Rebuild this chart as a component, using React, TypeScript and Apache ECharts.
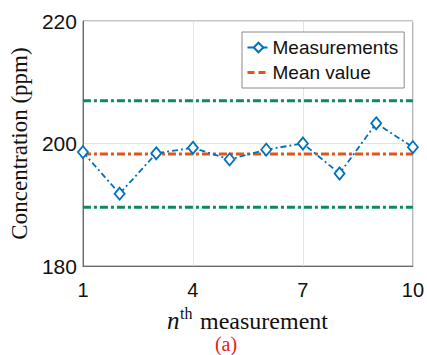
import React, { useEffect, useRef } from "react";
import * as echarts from "echarts";

const categories = ["1", "2", "3", "4", "5", "6", "7", "8", "9", "10"];
const measurements = [198.6, 191.8, 198.4, 199.3, 197.4, 199.0, 200.0, 195.1, 203.3, 199.4];
const meanValue = 198.3;
const upperLimit = 207.0;
const lowerLimit = 189.6;
const yTicks = { min: 180, max: 220, interval: 20 };

const BLUE = "#0072BD";
const ORANGE = "#E0561A";
const GREEN = "#0C8A5E";
const SERIF = "Liberation Serif";
const SANS = "Liberation Sans";

export default function App() {
  const ref = useRef<HTMLDivElement>(null);
  useEffect(() => {
    if (!ref.current) return;
    const chart = echarts.init(ref.current, null, { renderer: "svg" });
    const first = categories[0];
    const last = categories[categories.length - 1];
    const dashDot = [8, 3, 3, 3];
    chart.setOption({
      animation: false,
      backgroundColor: "#ffffff",
      grid: {
        left: 78,
        right: 13,
        top: 21,
        bottom: 89,
        show: true,
        borderColor: "#8a8a8a",
        borderWidth: 1,
      },
      legend: {
        data: [
          { name: "Measurements" },
          {
            name: "Mean value",
            itemStyle: { opacity: 0 },
            lineStyle: { color: ORANGE, width: 3, type: [7, 4], opacity: 1 },
          },
        ],
        orient: "vertical",
        left: 242,
        top: 32,
        padding: [6, 6, 6, 4],
        itemGap: 6,
        itemWidth: 22,
        itemHeight: 12,
        backgroundColor: "#ffffff",
        borderColor: "#8a8a8a",
        borderWidth: 1,
        textStyle: {
          fontFamily: SANS,
          fontSize: 19,
          color: "#111",
          lineHeight: 19,
          padding: [0, 0, 0, -2],
        },
      },
      xAxis: {
        type: "category",
        data: categories,
        boundaryGap: false,
        axisLine: { lineStyle: { color: "#6a6a6a", width: 1 } },
        axisTick: { show: false },
        axisLabel: {
          interval: 2,
          margin: 14,
          fontFamily: SANS,
          fontSize: 20,
          color: "#111",
        },
        splitLine: { show: true, interval: 2, lineStyle: { color: "#e4e4e4" } },
      },
      yAxis: {
        type: "value",
        min: yTicks.min,
        max: yTicks.max,
        interval: yTicks.interval,
        axisLine: { show: true, lineStyle: { color: "#6a6a6a", width: 1 } },
        axisTick: { show: false },
        axisLabel: {
          margin: 6,
          fontFamily: SANS,
          fontSize: 21,
          color: "#111",
        },
        splitLine: { show: true, lineStyle: { color: "#e4e4e4" } },
        name: "Concentration (ppm)",
        nameLocation: "middle",
        nameRotate: 90,
        nameGap: 46,
        nameTextStyle: { fontFamily: SERIF, fontSize: 23, color: "#111" },
      },
      series: [
        {
          name: "Upper limit",
          type: "line",
          data: [[first, upperLimit], [last, upperLimit]],
          symbol: "none",
          lineStyle: { color: GREEN, width: 3, type: dashDot },
          silent: true,
        },
        {
          name: "Lower limit",
          type: "line",
          data: [[first, lowerLimit], [last, lowerLimit]],
          symbol: "none",
          lineStyle: { color: GREEN, width: 3, type: dashDot },
          silent: true,
        },
        {
          name: "Mean value",
          type: "line",
          data: [[first, meanValue], [last, meanValue]],
          symbol: "none",
          itemStyle: { color: ORANGE },
          lineStyle: { color: ORANGE, width: 3, type: dashDot },
          z: 3,
        },
        {
          name: "Measurements",
          type: "line",
          data: measurements,
          symbol: "diamond",
          symbolSize: [10, 12],
          showSymbol: true,
          itemStyle: { color: "#ffffff", borderColor: BLUE, borderWidth: 1.8 },
          lineStyle: { color: BLUE, width: 1.8, type: [6, 3, 2, 3] },
          z: 4,
        },
      ],
      graphic: [
        {
          type: "text",
          x: 167,
          y: 333,
          style: {
            text: "n",
            fontFamily: SERIF,
            fontStyle: "italic",
            fontSize: 25,
            fill: "#111",
            verticalAlign: "bottom",
          },
        },
        {
          type: "text",
          x: 180,
          y: 321,
          style: {
            text: "th",
            fontFamily: SERIF,
            fontSize: 16,
            fill: "#111",
            verticalAlign: "bottom",
          },
        },
        {
          type: "text",
          x: 200,
          y: 333,
          style: {
            text: "measurement",
            fontFamily: SERIF,
            fontSize: 24,
            fill: "#111",
            verticalAlign: "bottom",
          },
        },
        {
          type: "text",
          x: 226,
          y: 344,
          style: {
            text: "(a)",
            fontFamily: SERIF,
            fontSize: 20,
            fill: "#e8191f",
            align: "center",
            verticalAlign: "middle",
          },
        },
      ],
    });
    return () => chart.dispose();
  }, []);
  return <div ref={ref} style={{ width: 427, height: 355, position: "absolute", left: 0, top: 0 }} />;
}
